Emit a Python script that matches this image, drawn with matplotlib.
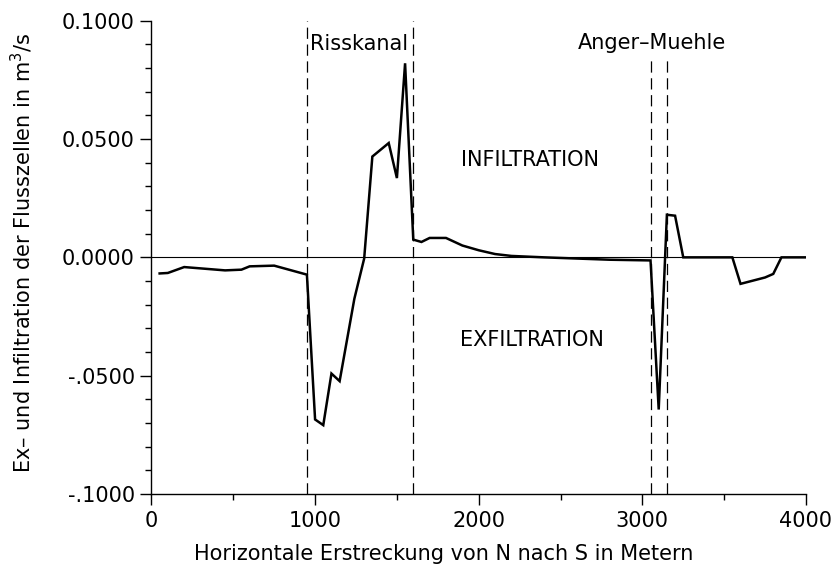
import numpy as np
import matplotlib
matplotlib.use('Agg')
import matplotlib.pyplot as plt
from matplotlib.ticker import MultipleLocator, FixedLocator

#%% data

# distance along river (m)
dist = [50, 100, 200, 450, 550, 600, 750, 950, 1000, 1050, 1100, 1150, 1240,
        1300, 1350, 1450, 1500, 1550, 1600, 1650, 1700, 1800, 1900, 2000,
        2100, 2200, 2400, 2600, 2800, 3050, 3100, 3150, 3200, 3250, 3550,
        3600, 3750, 3800, 3850, 4000]
# ex-/infiltration (m3/s)
flux = [-0.0068, -0.0066, -0.0041, -0.0055, -0.0052, -0.0038, -0.0035,
        -0.0073, -0.0685, -0.0709, -0.0491, -0.0523, -0.0175, -0.0005,
        0.0426, 0.0483, 0.0335, 0.0820, 0.0075, 0.0065, 0.0082, 0.0082,
        0.0050, 0.0030, 0.0014, 0.0006, 0.0, -0.0005, -0.0010, -0.0013,
        -0.0643, 0.0180, 0.0176, 0.0, 0.0, -0.0112, -0.0085, -0.0070, 0.0, 0.0]

# dashed boundaries
risskanal = [950, 1600]
anger_muehle = [3050, 3150]

yticks = [-0.1, -0.05, 0.0, 0.05, 0.1]
ytick_labels = ['-.1000', '-.0500', '0.0000', '0.0500', '0.1000']
xticks = [0, 1000, 2000, 3000, 4000]

#%% plot

fs = 15
fig = plt.figure(figsize=(8.34, 5.70), dpi=100)
ax = fig.add_axes([0.1816, 0.1333, 0.7848, 0.8304])

ax.plot(dist, flux, color='black', linewidth=1.8, solid_joinstyle='miter')
ax.axhline(0, color='black', linewidth=0.8)

for xv in risskanal:
    ax.axvline(xv, color='black', linewidth=0.9, dashes=(9, 4.5))
for xv in anger_muehle:
    ax.axvline(xv, ymax=0.92, color='black', linewidth=0.9, dashes=(9, 4.5))

ax.text(970, 0.0902, 'Risskanal', fontsize=fs, ha='left', va='center')
ax.text(3060, 0.0907, 'Anger\u2013Muehle', fontsize=fs, ha='center', va='center')
ax.text(2315, 0.0412, 'INFILTRATION', fontsize=fs, ha='center', va='center')
ax.text(2327, -0.0351, 'EXFILTRATION', fontsize=fs, ha='center', va='center')

ax.set_xlim(0, 4000)
ax.set_ylim(-0.1, 0.1)
ax.xaxis.set_major_locator(FixedLocator(xticks))
ax.xaxis.set_minor_locator(MultipleLocator(500))
ax.yaxis.set_major_locator(FixedLocator(yticks))
ax.set_yticklabels(ytick_labels)
ax.yaxis.set_minor_locator(MultipleLocator(0.01))

ax.tick_params(which='major', direction='out', length=8, width=1, labelsize=fs, pad=4)
ax.tick_params(which='minor', direction='out', length=4.5, width=1)

ax.spines['top'].set_visible(False)
ax.spines['right'].set_visible(False)
ax.spines['left'].set_linewidth(1)
ax.spines['bottom'].set_linewidth(1)

ax.set_xlabel('Horizontale Erstreckung von N nach S in Metern', fontsize=fs)
ax.set_ylabel('Ex\u2013 und Infiltration der Flusszellen in m$^3$/s', fontsize=fs)
ax.xaxis.set_label_coords(0.447, -0.105)
ax.yaxis.set_label_coords(-0.178, 0.51)

fig.savefig('out.png', dpi=100)
